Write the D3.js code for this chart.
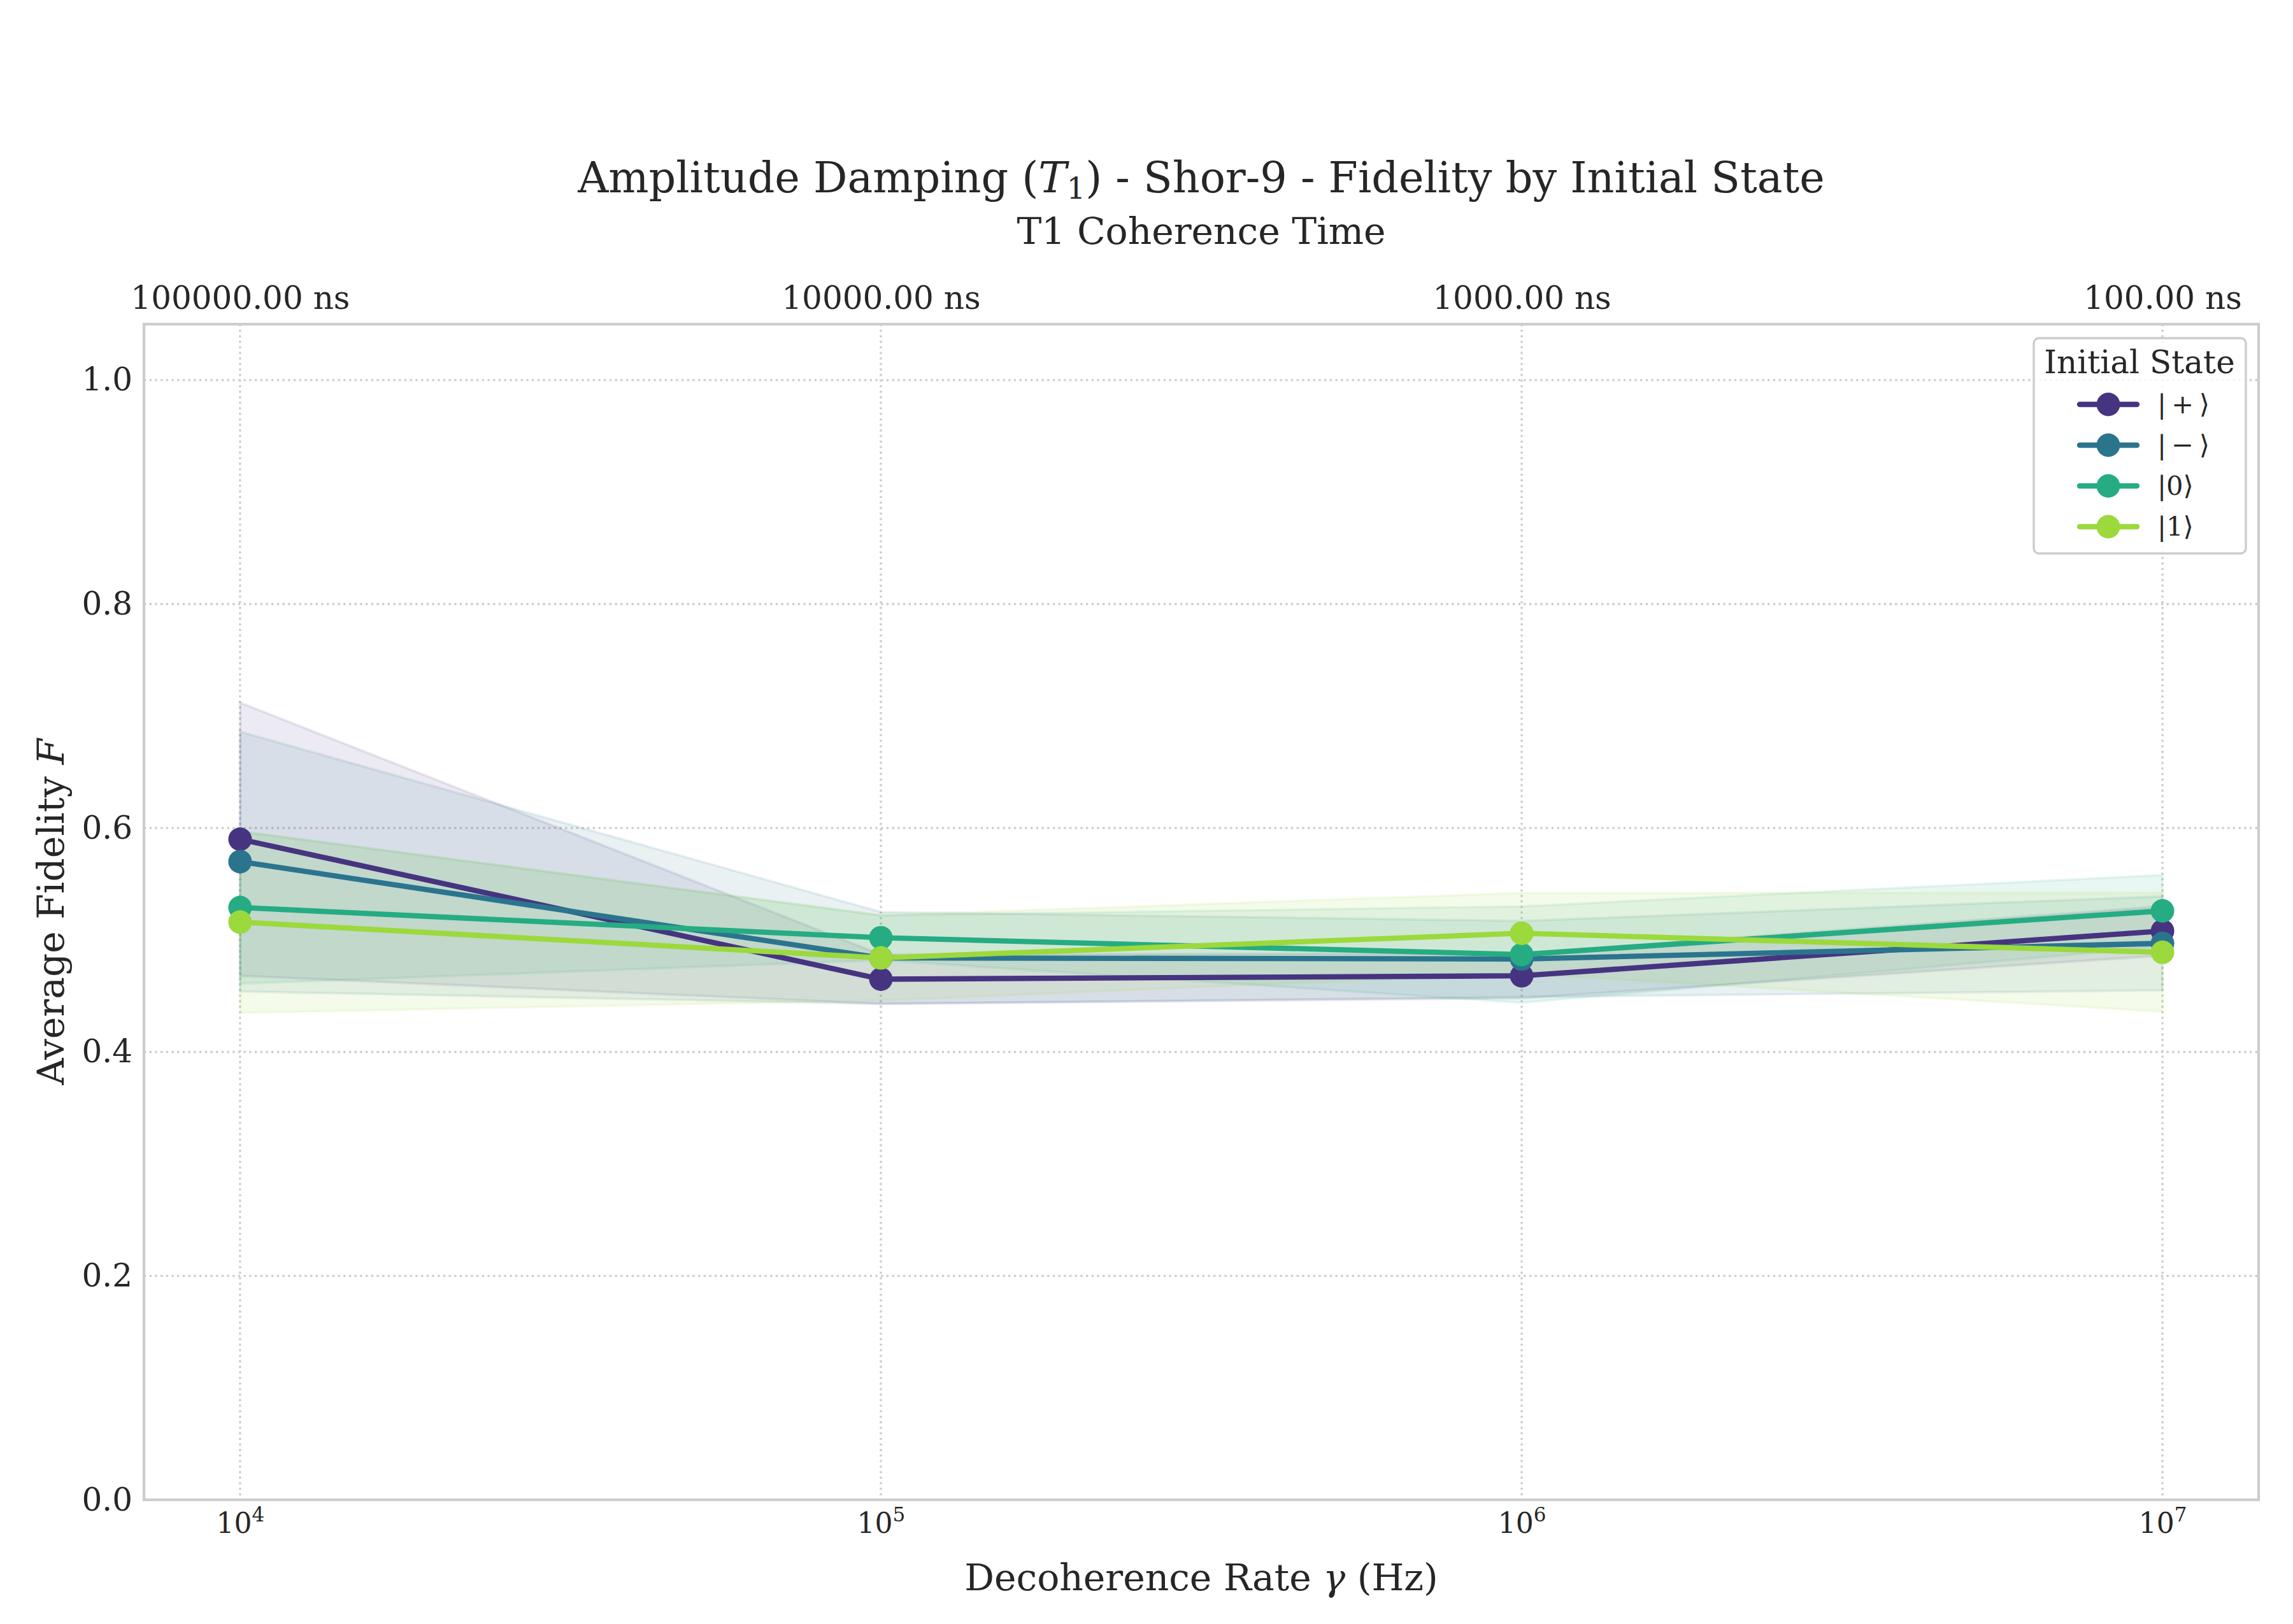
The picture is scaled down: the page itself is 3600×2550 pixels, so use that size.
<!DOCTYPE html>
<html>
<head>
<meta charset="utf-8">
<script src="https://cdn.jsdelivr.net/npm/d3@7"></script>
<style>
  body { margin: 0; background: #fff; }
  svg text { font-family: "DejaVu Serif", serif; fill: #262626; }
</style>
</head>
<body>
<svg width="3600" height="2550"></svg>
<script>
var svg = d3.select("svg"),
	width = +svg.attr("width"),
	height = +svg.attr("height");

// decoherence rates (Hz) and the initial states
var gammas = [1e4, 1e5, 1e6, 1e7];
var states = ["|+⟩", "|−⟩", "|0⟩", "|1⟩"];

// mean fidelity per state
var fidPlus  = [0.590, 0.465, 0.468, 0.508];
var fidMinus = [0.570, 0.484, 0.483, 0.497];
var fidZero  = [0.529, 0.502, 0.487, 0.526];
var fidOne   = [0.516, 0.484, 0.506, 0.489];

// spread (std) per state, drawn as the shaded band
var stdPlus  = [0.122, 0.022, 0.020, 0.022];
var stdMinus = [0.116, 0.041, 0.034, 0.042];
var stdZero  = [0.068, 0.020, 0.043, 0.032];
var stdOne   = [0.081, 0.038, 0.036, 0.053];

var yTicks = [0, 0.2, 0.4, 0.6, 0.8, 1.0];

var series = [
	{name: states[0], mean: fidPlus,  std: stdPlus},
	{name: states[1], mean: fidMinus, std: stdMinus},
	{name: states[2], mean: fidZero,  std: stdZero},
	{name: states[3], mean: fidOne,   std: stdOne}
];

var color = d3.scaleOrdinal()
	.domain(states)
	.range([0.15, 0.3833, 0.6167, 0.85].map(d3.interpolateViridis));

// plot box (note: "top" is taken by window.top)
var plotL = 226, plotR = 3546, plotT = 509, plotB = 2355;

var x = d3.scaleLog()
	.domain([Math.pow(10, 3.85), Math.pow(10, 7.15)])
	.range([plotL, plotR]);

var y = d3.scaleLinear()
	.domain([0, 1.05])
	.range([plotB, plotT]);

//grid lines
var grid = svg.append("g");
grid.selectAll(".hgrid")
	.data(yTicks)
	.enter().append("line")
		.attr("x1", plotL).attr("x2", plotR)
		.attr("y1", function(d) { return y(d); })
		.attr("y2", function(d) { return y(d); })
		.attr("stroke", "#cccccc")
		.attr("stroke-width", 3.3)
		.attr("stroke-dasharray", "3.3,5.4");
grid.selectAll(".vgrid")
	.data(gammas)
	.enter().append("line")
		.attr("y1", plotT).attr("y2", plotB)
		.attr("x1", function(d) { return x(d); })
		.attr("x2", function(d) { return x(d); })
		.attr("stroke", "#cccccc")
		.attr("stroke-width", 3.3)
		.attr("stroke-dasharray", "3.3,5.4");

//bands
var area = d3.area()
	.x(function(d) { return x(d.g); })
	.y0(function(d) { return y(Math.max(0, d.m - d.s)); })
	.y1(function(d) { return y(Math.min(1, d.m + d.s)); });

var line = d3.line()
	.x(function(d) { return x(d.g); })
	.y(function(d) { return y(d.m); });

function points(s) {
	return gammas.map(function(g, i) { return {g: g, m: s.mean[i], s: s.std[i], name: s.name}; });
}

svg.append("g").selectAll("path")
	.data(series)
	.enter().append("path")
		.attr("d", function(s) { return area(points(s)); })
		.attr("fill", function(s) { return color(s.name); })
		.attr("fill-opacity", 0.1)
		.attr("stroke", function(s) { return color(s.name); })
		.attr("stroke-opacity", 0.1)
		.attr("stroke-width", 4);

//lines and markers
var sg = svg.append("g").selectAll("g")
	.data(series)
	.enter().append("g");

sg.append("path")
	.attr("d", function(s) { return line(points(s)); })
	.attr("fill", "none")
	.attr("stroke", function(s) { return color(s.name); })
	.attr("stroke-width", 8.3)
	.attr("stroke-linejoin", "round");

sg.selectAll("circle")
	.data(function(s) { return points(s); })
	.enter().append("circle")
		.attr("cx", function(d) { return x(d.g); })
		.attr("cy", function(d) { return y(d.m); })
		.attr("r", 18.5)
		.attr("fill", function(d) { return color(d.name); });

//frame
svg.append("rect")
	.attr("x", plotL).attr("y", plotT)
	.attr("width", plotR - plotL).attr("height", plotB - plotT)
	.attr("fill", "none")
	.attr("stroke", "#cccccc")
	.attr("stroke-width", 4.2);

//y axis
var yAxis = svg.append("g")
	.attr("transform", "translate(" + plotL + ",0)")
	.call(d3.axisLeft(y).tickValues(yTicks).tickFormat(d3.format(".1f")).tickSize(0).tickPadding(18));
yAxis.select(".domain").remove();
yAxis.selectAll("text")
	.attr("font-size", 50)
	.attr("font-family", "DejaVu Serif")
	.attr("fill", "#262626");

//bottom axis with 10^n labels
var xAxis = svg.append("g")
	.attr("transform", "translate(0," + plotB + ")")
	.call(d3.axisBottom(x).tickValues(gammas).tickFormat("").tickSize(0));
xAxis.select(".domain").remove();
var xl = xAxis.selectAll(".tick").append("text")
	.attr("y", 52)
	.attr("text-anchor", "middle")
	.attr("font-size", 44);
xl.append("tspan").text("10");
xl.append("tspan")
	.attr("dy", -18)
	.attr("font-size", 31)
	.text(function(d) { return Math.round(Math.log10(d)); });

//top axis: T1 = 1/gamma in ns
var tAxis = svg.append("g")
	.attr("transform", "translate(0," + plotT + ")")
	.call(d3.axisTop(x).tickValues(gammas)
		.tickFormat(function(d) { return (1e9 / d).toFixed(2) + " ns"; })
		.tickSize(0).tickPadding(24));
tAxis.select(".domain").remove();
tAxis.selectAll("text")
	.attr("font-size", 50)
	.attr("font-family", "DejaVu Serif")
	.attr("fill", "#262626");

//titles and axis labels
var title = svg.append("text")
	.attr("x", (plotL + plotR) / 2).attr("y", 302)
	.attr("text-anchor", "middle")
	.attr("font-size", 66.7);
title.append("tspan").text("Amplitude Damping (");
title.append("tspan").attr("font-style", "italic").text("T");
title.append("tspan").attr("font-size", 46).attr("dy", 10).text("1");
title.append("tspan").attr("dy", -10).text(") - Shor-9 - Fidelity by Initial State");

svg.append("text")
	.attr("x", (plotL + plotR) / 2).attr("y", 383)
	.attr("text-anchor", "middle")
	.attr("font-size", 58.3)
	.text("T1 Coherence Time");

var xlab = svg.append("text")
	.attr("x", (plotL + plotR) / 2).attr("y", 2497)
	.attr("text-anchor", "middle")
	.attr("font-size", 58.3);
xlab.append("tspan").text("Decoherence Rate ");
xlab.append("tspan").attr("font-style", "italic").text("γ");
xlab.append("tspan").text(" (Hz)");

var ylab = svg.append("text")
	.attr("transform", "translate(100," + (plotT + plotB) / 2 + ") rotate(-90)")
	.attr("text-anchor", "middle")
	.attr("font-size", 58.3);
ylab.append("tspan").text("Average Fidelity ");
ylab.append("tspan").attr("font-style", "italic").text("F");

//legend
var legend = svg.append("g").attr("transform", "translate(3193,531)");
legend.append("rect")
	.attr("width", 333).attr("height", 338)
	.attr("rx", 8)
	.attr("fill", "#fff").attr("fill-opacity", 0.8)
	.attr("stroke", "#cccccc").attr("stroke-width", 3.3);
legend.append("text")
	.attr("x", 166).attr("y", 55)
	.attr("text-anchor", "middle")
	.attr("font-size", 50)
	.text("Initial State");

var item = legend.selectAll(".item")
	.data(states)
	.enter().append("g")
		.attr("transform", function(d, i) { return "translate(0," + (104 + i * 64) + ")"; });
item.append("line")
	.attr("x1", 72).attr("x2", 162)
	.attr("stroke", function(d) { return color(d); })
	.attr("stroke-width", 8.3)
	.attr("stroke-linecap", "round");
item.append("circle")
	.attr("cx", 117).attr("r", 18.5)
	.attr("fill", function(d) { return color(d); });
item.append("text")
	.attr("x", 194).attr("y", 14)
	.attr("font-size", 41.7)
	.text(function(d) { return d.replace("+", "\u2009+\u2009").replace("−", "\u2009−\u2009"); });
</script>
</body>
</html>
